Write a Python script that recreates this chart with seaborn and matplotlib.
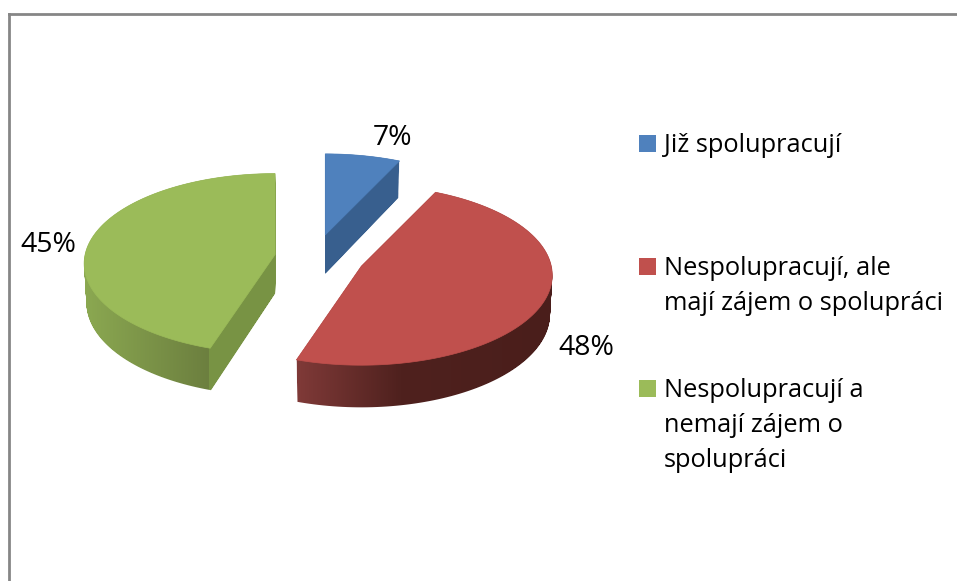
import matplotlib
matplotlib.use('Agg')
import matplotlib.pyplot as plt
from matplotlib.patches import PathPatch, Rectangle
from matplotlib.path import Path
import seaborn as sns
import numpy as np

categorias = ['Již spolupracují', 'Nespolupracují, ale\nmají zájem o spolupráci', 'Nespolupracují a\nnemají zájem o\nspolupráci']
valores = [7, 48, 45]
explode = [0.26, 0.265, 0.21]

cores = sns.color_palette(['#4f81bd', '#c0504d', '#9bbb59'])
# gradiente da lateral: (x em pixels, cor)
laterais = [
    [(0, '#385f8e'), (957, '#385f8e')],
    [(300, '#7e3937'), (400, '#4f211e'), (552, '#4a1e1b')],
    [(85, '#8ba851'), (208, '#6c7f3f'), (209, '#789344'), (275, '#789344')],
]

sns.set_style('white')
plt.rcParams['font.family'] = ['Open Sans', 'DejaVu Sans']

L, H = 957, 581
fig = plt.figure(figsize=(L / 100, H / 100), dpi=100)
ax = fig.add_axes([9 / L, 0, 1 - 9 / L, 1 - 14 / H])

R = 1000
fatias, _ = ax.pie(valores, explode=[e * R for e in explode], startangle=90, counterclock=False, radius=R)

# perspectiva do disco
cx, cy = 314.5, 257.5
rx, ry, k = 190, 89.1, 0.1
prof = 39


def projeta(wedge):
    pts = wedge.get_path().to_polygons(closed_only=False)[0]
    c = np.array(wedge.center)
    rel = (pts - c) / R
    d = 1 + k * rel[:, 1]
    x = cx + rx * c[0] / R + rx * rel[:, 0] / d
    y = cy - ry * c[1] / R - ry * rel[:, 1] / d
    return np.column_stack([x, y]), np.array([cx + rx * c[0] / R, cy - ry * c[1] / R]), d


ax.set_aspect('auto')
ax.set_frame_on(True)
ax.set_xticks([])
ax.set_yticks([])

xs = np.arange(L)
for w, cor, lat in zip(fatias, cores, laterais):
    w.set_visible(False)
    topo, tip, d = projeta(w)
    # lateral: copias empilhadas do topo, recortando um gradiente
    copias = []
    for t in np.linspace(0, 1, 41):
        p = tip + (topo - tip) * (1 - 0.012 * t)
        p[:, 1] += prof * t / d
        copias.append(Path(p))
    lateral = Path.make_compound_path(*copias)
    stops_x = [s[0] for s in lat]
    stops_c = np.array([matplotlib.colors.to_rgb(s[1]) for s in lat])
    grad = np.stack([np.interp(xs, stops_x, stops_c[:, i]) for i in range(3)], axis=1)[None, :, :]
    im = ax.imshow(grad, extent=(0, L, H, 0), aspect='auto', zorder=2, interpolation='nearest')
    patch_lat = PathPatch(lateral, fc='none', ec='none', transform=ax.transData)
    ax.add_patch(patch_lat)
    im.set_clip_path(patch_lat)
    ax.add_patch(PathPatch(Path(topo), fc=cor, ec=cor, lw=0.5, zorder=3))

ax.set_xlim(9, L)
ax.set_ylim(H, 14)

# rotulos
pos_rotulos = [(393, 138), (586, 348), (48, 245)]
for v, (x, y) in zip(valores, pos_rotulos):
    ax.text(x, y, f'{v}%', ha='center', va='center', fontsize=20.4, color='black', zorder=5)

# legenda
pos_legenda = [135, 258, 380]
for nome, cor, y in zip(categorias, cores, pos_legenda):
    ax.add_patch(Rectangle((639, y), 17, 17, fc=cor, ec='none', zorder=5))
    ax.text(664, y - 2.5, nome, ha='left', va='top', fontsize=18.3, linespacing=1.53, color='black', zorder=5)

for lado in ['right', 'bottom']:
    ax.spines[lado].set_visible(False)
for lado in ['top', 'left']:
    ax.spines[lado].set_visible(True)
    ax.spines[lado].set_color('#868686')
    ax.spines[lado].set_linewidth(2)

fig.savefig('out.png', dpi=100)
